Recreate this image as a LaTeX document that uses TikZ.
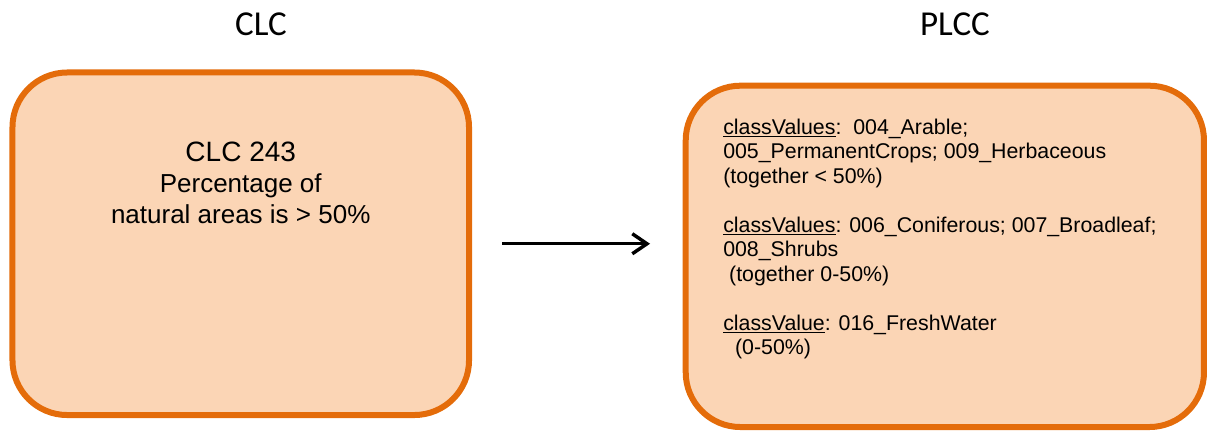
\documentclass[tikz,border=0pt]{standalone}
\usepackage{fontspec}
\setmainfont{Liberation Sans}
\newfontfamily\titlefont{Carlito}
\usepackage{xcolor}
\usetikzlibrary{positioning,arrows.meta}

\definecolor{boxline}{HTML}{E46C0A}
\definecolor{boxfill}{HTML}{FBD5B5}

\begin{document}
\begin{tikzpicture}[
  x=0.75pt, y=-0.75pt,
  box/.style={rectangle, draw=boxline, fill=boxfill, line width=4.5pt,
              rounded corners=41pt},
  title/.style={anchor=base, font=\titlefont\fontsize{26.25pt}{30pt}\selectfont},
  flow/.style={-{Straight Barb[length=11pt,width=15pt]}, line width=2.6pt, draw=black},
  txt/.style={inner sep=0pt, font=\fontsize{16pt}{18.4pt}\selectfont}
]
\useasboundingbox (0,0) rectangle (1207,430);

% titles
\node[title] (clctitle)  at (261,35) {CLC};
\node[title] (plcctitle) at (955,35) {PLCC};

% boxes
\node[box, minimum width=342.4pt, minimum height=256.9pt] (clcbox)  at (240.75,243.75) {};
\node[box, minimum width=388.7pt, minimum height=256pt]   (plccbox) at (944.85,256.35) {};

% box texts
\node[below=54pt of clcbox.north, anchor=north, inner sep=0pt, align=center,
      font=\fontsize{19.5pt}{23.25pt}\selectfont] (clctext)
  {{\fontsize{21pt}{23.25pt}\selectfont CLC 243}\\
   Percentage of\\
   natural areas is > 50\%};

\node[below right=26.7pt and 30.2pt of plccbox.north west, anchor=north west,
      txt, align=left] (plcctext)
  {\underline{classValues}:\ \ 004\_Arable;\\
   005\_PermanentCrops; 009\_Herbaceous\\
   (together < 50\%)\\[18.4pt]
   \underline{classValues}: 006\_Coniferous; 007\_Broadleaf;\\
   008\_Shrubs\\
   \ (together 0-50\%)\\[18.4pt]
   \underline{classValue}: 016\_FreshWater\\
   \ \ (0-50\%)};

% mapping arrow
\draw[flow] ([xshift=22.5pt]clcbox.east) -- ([xshift=-24.5pt]clcbox.east -| plccbox.west);
\end{tikzpicture}
\end{document}
